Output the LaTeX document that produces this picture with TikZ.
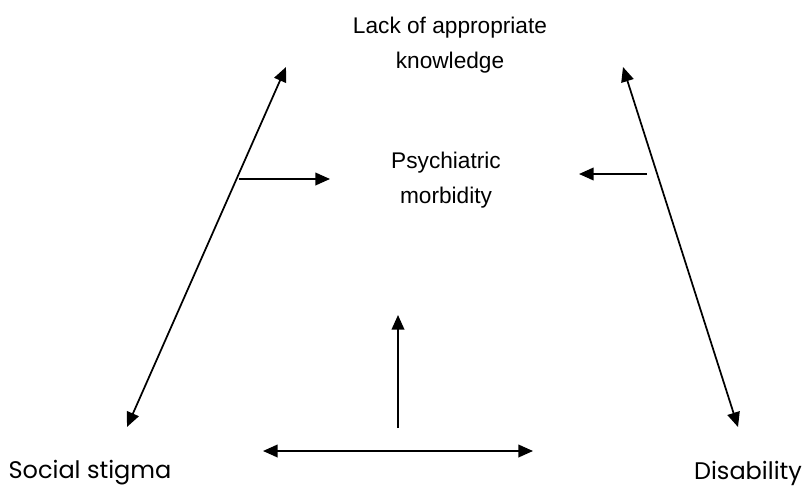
\documentclass[tikz,border=0pt]{standalone}
\usepackage{fontspec}
\setmainfont{Liberation Sans}
\newfontfamily\roundfont{Poppins}
\usetikzlibrary{arrows.meta}

\begin{document}
\begin{tikzpicture}[x=0.75pt,y=-0.75pt,
  lbl/.style={align=center,font=\fontsize{17}{26}\selectfont,inner sep=0pt},
  endlbl/.style={font=\roundfont\fontsize{18}{26}\selectfont,inner sep=0pt},
  link/.style={line width=1.3pt,-{Triangle[length=11pt,width=9.5pt]}},
  twoway/.style={line width=1.3pt,{Triangle[length=11pt,width=9.5pt]}-{Triangle[length=11pt,width=9.5pt]}}]
\useasboundingbox (0,0) rectangle (803,492);
\node[lbl] (lack) at (450,45) {Lack of appropriate\\knowledge};
\node[lbl] (psych) at (446,180) {Psychiatric\\morbidity};
\node[endlbl] (stigma) at (90,473) {Social stigma};
\node[endlbl] (disab) at (748,473) {Disability};
\coordinate (ltop) at (286,67);
\coordinate (lbot) at (127,427);
\coordinate (rtop) at (623,67);
\coordinate (rbot) at (738,427);
\coordinate (lmid) at (239,179);
\coordinate (rmid) at (647,174);
\coordinate (vbot) at (398,428);
\coordinate (bl) at (263,451);
\coordinate (br) at (533,451);
\draw[twoway] (lbot) -- (ltop);
\draw[twoway] (rtop) -- (rbot);
\draw[link] (lmid) -- (330,179);
\draw[link] (rmid) -- (579,174);
\draw[link] (vbot) -- (398,315);
\draw[twoway] (bl) -- (br);
\end{tikzpicture}
\end{document}
